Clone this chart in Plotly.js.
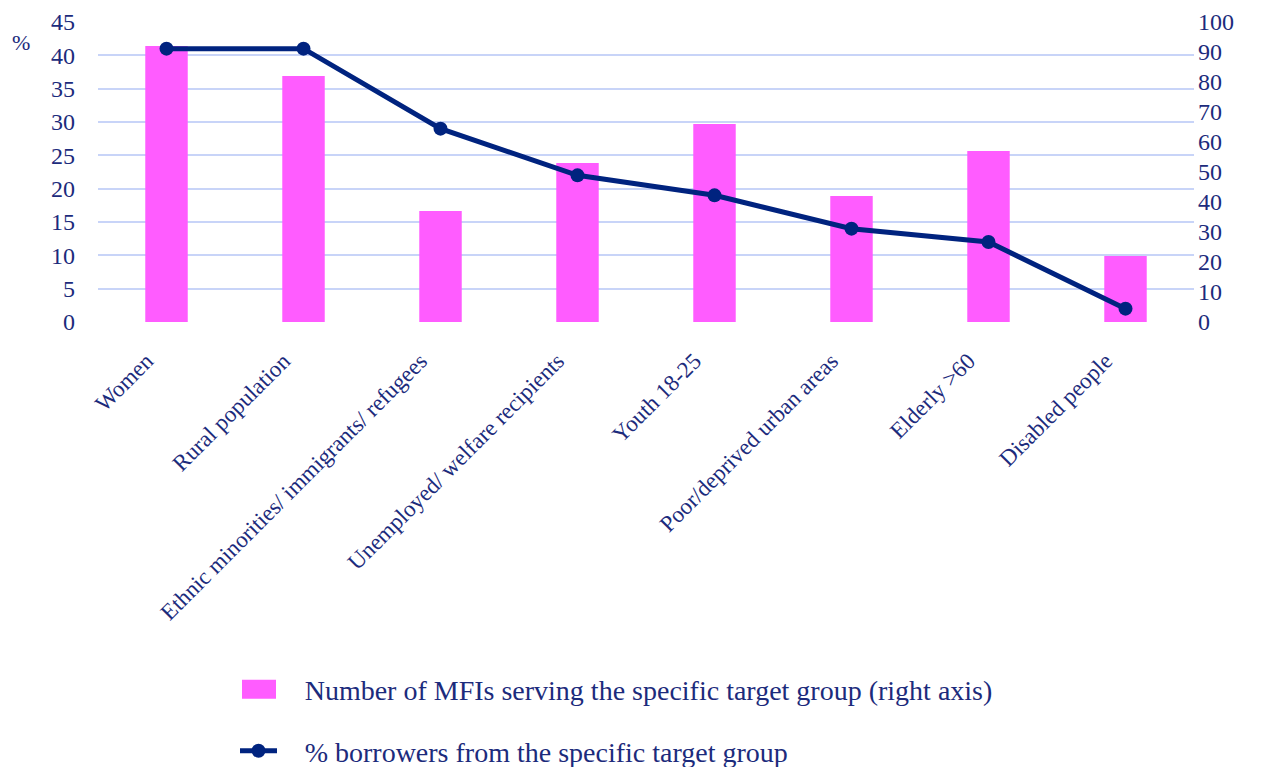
<!DOCTYPE html>
<html>
<head>
<meta charset="utf-8">
<script src="https://cdn.plot.ly/plotly-3.0.1.min.js"></script>
<style>
  html, body { margin: 0; padding: 0; background: #ffffff; }
  #chart { width: 1269px; height: 767px; }
</style>
</head>
<body>
<div id="chart"></div>
<script>
const categories = [
  "Women",
  "Rural population",
  "Ethnic minorities/ immigrants/ refugees",
  "Unemployed/ welfare recipients",
  "Youth 18-25",
  "Poor/deprived urban areas",
  "Elderly >60",
  "Disabled people"
];
const mfiCounts = [92, 82, 37, 53, 66, 42, 57, 22];
const borrowerPct = [41, 41, 29, 22, 19, 14, 12, 2];
const leftTicks = [0, 5, 10, 15, 20, 25, 30, 35, 40, 45];
const rightTicks = [0, 10, 20, 30, 40, 50, 60, 70, 80, 90, 100];

const navy = "#00237f";
const textColor = "#1c2b7c";
const pink = "#ff5cff";
const font = "Liberation Serif, DejaVu Serif, serif";

const traces = [
  {
    type: "bar",
    name: "Number of MFIs serving the specific target group (right axis)",
    x: categories,
    y: mfiCounts,
    yaxis: "y",
    marker: { color: pink },
    legendgroup: "a"
  },
  {
    type: "scatter",
    mode: "lines+markers",
    name: "% borrowers from the specific target group",
    x: categories,
    y: borrowerPct,
    yaxis: "y2",
    line: { color: navy, width: 5 },
    marker: { color: navy, size: 14 },
    legendgroup: "b"
  }
];

const layout = {
  width: 1269,
  height: 767,
  margin: { l: 98, r: 75, t: 22, b: 445, autoexpand: false },
  paper_bgcolor: "#ffffff",
  plot_bgcolor: "#ffffff",
  font: { family: font, color: textColor, size: 20 },
  bargap: 0.69,
  showlegend: true,
  legend: {
    orientation: "v",
    x: 0.1247,
    xanchor: "left",
    y: -1.142,
    yanchor: "top",
    font: { family: font, size: 28, color: textColor },
    tracegroupgap: 22,
    itemwidth: 60,
    bgcolor: "rgba(0,0,0,0)"
  },
  xaxis: {
    type: "category",
    tickangle: -45,
    tickfont: { family: font, size: 23, color: textColor },
    showgrid: false,
    showline: false,
    ticks: "",
    zeroline: false,
    automargin: false,
    ticklabelstandoff: 20
  },
  yaxis: {
    range: [0, 100],
    tickvals: rightTicks,
    ticktext: rightTicks.map(String),
    side: "right",
    tickfont: { family: font, size: 24, color: textColor },
    showgrid: false,
    zeroline: false,
    showline: false,
    ticks: "",
    ticklabelstandoff: 3,
    fixedrange: true
  },
  yaxis2: {
    range: [0, 45],
    tickvals: leftTicks,
    ticktext: leftTicks.map(String),
    overlaying: "y",
    side: "left",
    tickfont: { family: font, size: 24, color: textColor },
    showgrid: true,
    gridcolor: "#c8d4f8",
    gridwidth: 2,
    zeroline: false,
    showline: false,
    ticks: "",
    ticklabelstandoff: 22,
    fixedrange: true
  },
  annotations: [
    {
      text: "%",
      xref: "paper",
      yref: "paper",
      x: -0.07,
      y: 0.93,
      xanchor: "center",
      yanchor: "middle",
      showarrow: false,
      font: { family: font, size: 22, color: textColor }
    }
  ]
};

Plotly.newPlot("chart", traces, layout, { displayModeBar: false, staticPlot: true }).then(function (gd) {
  const items = gd.querySelectorAll(".legend .traces");
  items.forEach(function (it) {
    const t = it.__data__ && it.__data__[0] && it.__data__[0].trace;
    if (!t) return;
    if (t.type === "bar") {
      // wide pink swatch like the reference legend
      const p = it.querySelector(".legendpoints path");
      if (p) {
        const off = p.parentNode.getScreenCTM().e;
        const l = 242 - off, r = 276 - off;
        p.setAttribute("d", "M" + r + ",9.5H" + l + "V-9.5H" + r + "Z");
        p.removeAttribute("transform");
      }
    } else {
      const ln = it.querySelector(".legendlines path");
      if (ln) {
        const off = ln.parentNode.getScreenCTM().e;
        ln.setAttribute("d", "M" + (240 - off) + ",0h37");
        ln.removeAttribute("transform");
      }
      const mk = it.querySelector(".legendpoints path");
      if (mk) {
        const off2 = mk.parentNode.getScreenCTM().e;
        mk.setAttribute("transform", "translate(" + (258.5 - off2) + ",0)");
      }
    }
  });
  // nudge rotated category labels slightly left, as in the reference
  const xl = gd.querySelector(".xaxislayer-above");
  if (xl) xl.setAttribute("transform", "translate(-20,0)");
});
</script>
</body>
</html>
